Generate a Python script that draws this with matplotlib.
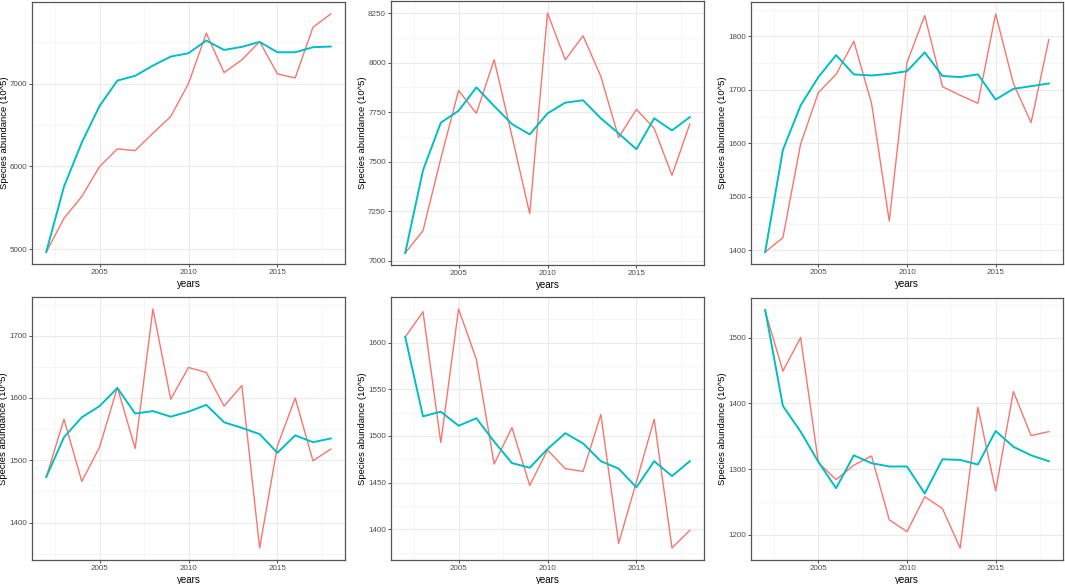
import numpy as np
import matplotlib.pyplot as plt
from matplotlib.ticker import MultipleLocator

plt.rcParams['font.family'] = ['Liberation Sans', 'DejaVu Sans']

years = list(range(2002, 2019))

red1 = [4965, 5374, 5636, 5998, 6211, 6191, 6400, 6602, 7000, 7608, 7133, 7286, 7507, 7117, 7068, 7680, 7841]
cyan1 = [4965, 5757, 6288, 6730, 7036, 7093, 7217, 7326, 7366, 7519, 7406, 7443, 7503, 7378, 7378, 7439, 7447]

red2 = [7040, 7153, 7516, 7859, 7744, 8014, 7630, 7238, 8250, 8014, 8135, 7930, 7622, 7764, 7668, 7432, 7690]
cyan2 = [7040, 7457, 7697, 7757, 7875, 7781, 7690, 7638, 7744, 7798, 7810, 7719, 7643, 7563, 7719, 7658, 7725]

red3 = [1397, 1424, 1599, 1695, 1729, 1791, 1675, 1455, 1751, 1839, 1706, 1690, 1675, 1842, 1712, 1639, 1794]
cyan3 = [1397, 1588, 1671, 1724, 1765, 1729, 1727, 1730, 1735, 1770, 1726, 1724, 1729, 1682, 1702, 1707, 1712]

red4 = [1473, 1566, 1466, 1521, 1617, 1519, 1743, 1598, 1649, 1641, 1587, 1620, 1359, 1523, 1600, 1499, 1518]
cyan4 = [1473, 1537, 1569, 1587, 1616, 1575, 1579, 1570, 1578, 1589, 1561, 1552, 1542, 1512, 1540, 1529, 1535]

red5 = [1606, 1633, 1493, 1636, 1582, 1470, 1509, 1447, 1485, 1465, 1462, 1523, 1385, 1451, 1518, 1380, 1399]
cyan5 = [1606, 1521, 1526, 1511, 1519, 1494, 1471, 1466, 1486, 1503, 1492, 1473, 1465, 1445, 1473, 1457, 1473]

red6 = [1540, 1449, 1500, 1310, 1284, 1306, 1320, 1223, 1205, 1258, 1240, 1180, 1394, 1267, 1418, 1351, 1357]
cyan6 = [1542, 1396, 1357, 1311, 1271, 1321, 1309, 1304, 1304, 1263, 1315, 1314, 1307, 1358, 1334, 1321, 1312]

panels = [
    (red1, cyan1, 1000),
    (red2, cyan2, 250),
    (red3, cyan3, 100),
    (red4, cyan4, 100),
    (red5, cyan5, 50),
    (red6, cyan6, 100),
]

# panel boxes in pixels: left, top, right, bottom
boxes = [
    (32, 2, 345, 264), (391, 1, 704, 265), (751, 2, 1063, 264),
    (32, 297, 345, 560), (391, 297, 704, 560), (751, 298, 1063, 560),
]

W, H = 1065, 584
fig = plt.figure(figsize=(W / 100, H / 100), dpi=100)

for (red, cyan, step), (l, t, r, b) in zip(panels, boxes):
    ax = fig.add_axes([l / W, 1 - b / H, (r - l) / W, (b - t) / H])
    ax.plot(years, red, color='#F8766D', lw=1.0, zorder=3)
    ax.plot(years, cyan, color='#00BFC4', lw=1.4, zorder=4)
    ax.margins(x=0.05, y=0.05)
    ax.xaxis.set_major_locator(MultipleLocator(5))
    ax.xaxis.set_minor_locator(MultipleLocator(2.5))
    ax.yaxis.set_major_locator(MultipleLocator(step))
    ax.yaxis.set_minor_locator(MultipleLocator(step / 2))
    ax.grid(which='major', color='#EBEBEB', lw=0.8)
    ax.grid(which='minor', color='#F3F3F3', lw=0.5)
    ax.set_axisbelow(True)
    for s in ax.spines.values():
        s.set_color('#555555')
        s.set_linewidth(0.9)
    ax.tick_params(which='major', length=2.5, width=0.6, color='#333333',
                   labelsize=5.8, labelcolor='#4D4D4D', pad=1.2)
    ax.tick_params(which='minor', length=0)
    ax.set_xlabel('years', fontsize=7, labelpad=2)
    ax.set_ylabel('Species abundance (10^5)', fontsize=6.8, labelpad=0.5)

fig.savefig('out.png', dpi=100)
